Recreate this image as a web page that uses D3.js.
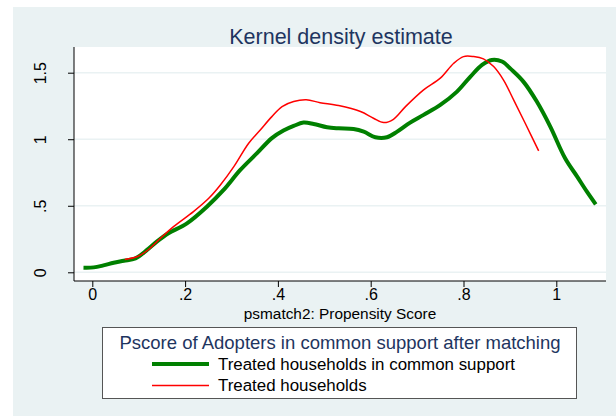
<!DOCTYPE html>
<html lang="en">
<head>
<meta charset="UTF-8">
<title>Kernel density estimate</title>
<script src="https://cdn.jsdelivr.net/npm/d3@7/dist/d3.min.js"></script>
<style>
  body { margin: 0; background: #fff; }
  svg { display: block; font-family: "Liberation Sans", Arial, sans-serif; }
</style>
</head>
<body>
<svg id="chart" width="616" height="416"></svg>
<script>
// values
const greenX = [-0.019, 0.003, 0.024, 0.046, 0.068, 0.093, 0.118, 0.139, 0.164, 0.204, 0.247, 0.283, 0.319, 0.355, 0.387, 0.412, 0.434, 0.455, 0.477, 0.506, 0.531, 0.563, 0.585, 0.610, 0.635, 0.657, 0.685, 0.714, 0.750, 0.786, 0.815, 0.840, 0.861, 0.883, 0.904, 0.929, 0.958, 0.987, 1.019, 1.045, 1.066, 1.085]
const greenY = [0.035, 0.037, 0.052, 0.072, 0.087, 0.105, 0.168, 0.230, 0.293, 0.368, 0.493, 0.619, 0.769, 0.895, 1.008, 1.065, 1.100, 1.125, 1.115, 1.090, 1.082, 1.077, 1.057, 1.015, 1.015, 1.057, 1.125, 1.183, 1.258, 1.358, 1.471, 1.559, 1.596, 1.584, 1.521, 1.433, 1.283, 1.095, 0.857, 0.719, 0.606, 0.511]

const redX = [0.070, 0.096, 0.118, 0.147, 0.175, 0.218, 0.251, 0.276, 0.305, 0.337, 0.362, 0.387, 0.409, 0.434, 0.461, 0.491, 0.531, 0.578, 0.606, 0.628, 0.649, 0.675, 0.714, 0.750, 0.779, 0.800, 0.822, 0.843, 0.865, 0.886, 0.908, 0.933, 0.962]
const redY = [0.097, 0.117, 0.162, 0.256, 0.343, 0.456, 0.556, 0.656, 0.794, 0.970, 1.070, 1.170, 1.245, 1.283, 1.296, 1.275, 1.253, 1.208, 1.158, 1.125, 1.150, 1.245, 1.371, 1.459, 1.571, 1.621, 1.621, 1.604, 1.546, 1.446, 1.296, 1.120, 0.912]

const xTicks = [0, 0.2, 0.4, 0.6, 0.8, 1]
const xTickLabels = ['0', '.2', '.4', '.6', '.8', '1']
const yTicks = [0, 0.5, 1, 1.5]
const yTickLabels = ['0', '.5', '1', '1.5']
const legendLabels = ['Treated households in common support', 'Treated households']

const svg = d3.select('#chart')
const bg = '#eaf2f3'
const navy = '#1e3560'

svg.append('rect').attr('x', 13).attr('y', 7).attr('width', 603).attr('height', 409).attr('fill', bg)

const plot = { left: 74, top: 47, right: 606, bottom: 281 }
svg.append('rect')
  .attr('x', plot.left).attr('y', plot.top)
  .attr('width', plot.right - plot.left).attr('height', plot.bottom - plot.top)
  .attr('fill', '#fff')

const x = d3.scaleLinear().domain([0, 1]).range([92.3, 556.3])
const y = d3.scaleLinear().domain([0, 1.5]).range([272.3, 72.7])

// grid lines
svg.append('g').selectAll('line').data(yTicks).enter().append('line')
  .attr('x1', plot.left).attr('x2', plot.right)
  .attr('y1', d => y(d)).attr('y2', d => y(d))
  .attr('stroke', bg).attr('stroke-width', 1.5)

// axes
const yAxis = svg.append('g')
  .attr('transform', `translate(${plot.left},0)`)
  .call(d3.axisLeft(y).tickValues(yTicks).tickFormat((d, i) => yTickLabels[i]).tickSize(6).tickSizeOuter(0))
yAxis.select('.domain').attr('d', `M0,${plot.top}V${plot.bottom}`).attr('stroke', '#000')
yAxis.selectAll('.tick line').attr('stroke', '#000')
yAxis.selectAll('.tick text')
  .attr('font-size', 16).attr('fill', '#000')
  .attr('transform', 'rotate(-90)')
  .attr('x', 0).attr('y', -34)
  .attr('dy', '0.35em')
  .attr('text-anchor', 'middle')
  .attr('font-family', '"Liberation Sans", Arial, sans-serif')

const xAxis = svg.append('g')
  .attr('transform', `translate(0,${plot.bottom})`)
  .call(d3.axisBottom(x).tickValues(xTicks).tickFormat((d, i) => xTickLabels[i]).tickSize(6).tickSizeOuter(0))
xAxis.select('.domain').attr('d', `M${plot.left},0H${plot.right}`).attr('stroke', '#000')
xAxis.selectAll('.tick line').attr('stroke', '#000')
xAxis.selectAll('.tick text')
  .attr('font-size', 16).attr('fill', '#000').attr('y', 8)
  .attr('font-family', '"Liberation Sans", Arial, sans-serif')

svg.append('text').attr('x', 340).attr('y', 319).attr('text-anchor', 'middle')
  .attr('font-size', 15.4).attr('fill', '#000').text('psmatch2: Propensity Score')

svg.append('text').attr('x', 341).attr('y', 44).attr('text-anchor', 'middle')
  .attr('font-size', 21.5).attr('fill', navy).text('Kernel density estimate')

// curves
const line = d3.line().x(d => x(d[0])).y(d => y(d[1])).curve(d3.curveCatmullRom)
svg.append('path').datum(d3.zip(greenX, greenY))
  .attr('d', line).attr('fill', 'none').attr('stroke', '#008000').attr('stroke-width', 4).attr('stroke-linejoin', 'round')
svg.append('path').datum(d3.zip(redX, redY))
  .attr('d', line).attr('fill', 'none').attr('stroke', '#ff0000').attr('stroke-width', 1.5).attr('stroke-linejoin', 'round')

// legend
const lg = svg.append('g')
lg.append('rect').attr('x', 102.5).attr('y', 327.5).attr('width', 474).attr('height', 71)
  .attr('fill', '#fff').attr('stroke', '#555').attr('stroke-width', 1)
lg.append('text').attr('x', 340).attr('y', 349).attr('text-anchor', 'middle')
  .attr('font-size', 18.5).attr('fill', navy).text('Pscore of Adopters in common support after matching')
const items = [{ c: '#008000', w: 4 }, { c: '#ff0000', w: 1.5 }]
items.forEach((it, i) => {
  const yy = 364 + i * 21.5
  lg.append('line').attr('x1', 152).attr('x2', 209).attr('y1', yy).attr('y2', yy)
    .attr('stroke', it.c).attr('stroke-width', it.w)
  lg.append('text').attr('x', 218).attr('y', yy).attr('dy', '0.35em')
    .attr('font-size', 16.9).attr('fill', '#000').text(legendLabels[i])
})
</script>
</body>
</html>
